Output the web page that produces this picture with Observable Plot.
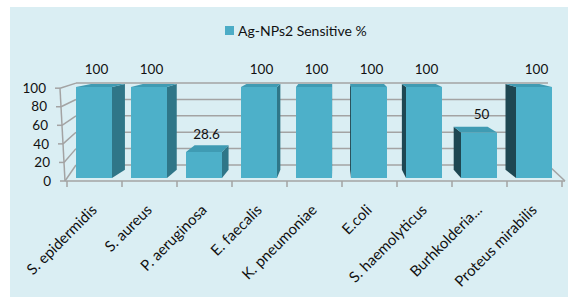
<!DOCTYPE html>
<html>
<head>
<meta charset="utf-8">
<script src="https://cdn.jsdelivr.net/npm/d3@7"></script>
<script src="https://cdn.jsdelivr.net/npm/@observablehq/plot@0.6"></script>
<style>
  html, body { margin: 0; padding: 0; background: #ffffff; }
  body { font-family: Lato, "Open Sans", sans-serif; }
  #panel { position: absolute; left: 10px; top: 7px; width: 558px; height: 290px; background: #DAEEF3; overflow: hidden; }
  #legend { position: absolute; left: 215px; top: 16px; height: 14px; display: flex; align-items: center; font-size: 14px; color: #111; white-space: nowrap; }
  #legend .sw { width: 9px; height: 9px; background: #4BACC6; margin-right: 4px; }
  #chart { position: absolute; left: 0; top: 38px; }
</style>
</head>
<body>
<div id="panel">
  <div id="legend"><div class="sw"></div><span id="legendText"></span></div>
  <div id="chart"></div>
</div>
<script>
// ---- data ----
const seriesName = "Ag-NPs2 Sensitive %";
const categories = ["S. epidermidis", "S. aureus", "P. aeruginosa", "E. faecalis", "K. pneumoniae", "E.coli", "S. haemolyticus", "Burhkolderia...", "Proteus mirabilis"];
const values = [100, 100, 28.6, 100, 100, 100, 100, 50, 100];
const yTicks = [0, 20, 40, 60, 80, 100];

const data = categories.map((c, i) => ({category: c, value: values[i]}));
document.getElementById("legendText").textContent = seriesName;

// ---- styling / 3D projection settings ----
const W = 558, H = 252;
const FRONT = "#4db0c9", TOP = "#3f9bb3", RSIDE = "#2f7688", LSIDE = "#1e4752";
const GRID = "#a3a3a3";
const VPX = 325, VPY = -11, K = 0.058;

const back = (x, y) => [x + K * (VPX - x), y + K * (VPY - y)];

function wallGeometry(scales) {
  const y0 = scales.y(0);
  const [xa, xb] = scales.x.range();
  return {
    yBack: v => y0 - 13 + (scales.y(v) - y0) * 0.9,
    yFront: v => y0 + 3 + (scales.y(v) - y0) * 1.02,
    xFront: v => xa - 2 - 5 * (v / 100),
    xBackL: xa + 9,
    xBackR: xb - 17,
    xa, xb
  };
}

const walls = Plot.ruleY(yTicks, {
  y: d => d,
  render(index, scales) {
    const G = wallGeometry(scales);
    const g = d3.create("svg:g").attr("fill", "none").attr("stroke", GRID).attr("stroke-width", 1.5);
    const line = (x1, y1, x2, y2) => g.append("line").attr("x1", x1).attr("y1", y1).attr("x2", x2).attr("y2", y2);
    for (const v of yTicks) {
      line(G.xBackL, G.yBack(v), G.xBackR, G.yBack(v));               // back wall gridline
      line(G.xFront(v), G.yFront(v), G.xBackL, G.yBack(v));            // side wall line
      line(G.xFront(v) - 5, G.yFront(v), G.xFront(v), G.yFront(v));    // tick
    }
    const vMax = yTicks[yTicks.length - 1];
    line(G.xFront(vMax), G.yFront(vMax), G.xFront(0), G.yFront(0));    // y axis edge
    line(G.xFront(0), G.yFront(0), G.xb, G.yFront(0));                 // floor front
    line(G.xBackR, G.yBack(0), G.xb, G.yFront(0));                     // floor right
    const step = scales.x.step();
    for (let i = 0; i <= categories.length; i++) {
      const x = G.xa + i * step;
      line(x, G.yFront(0), x, G.yFront(0) + 6);
    }
    return g.node();
  }
});

const yLabels = Plot.text(yTicks, {
  y: d => d,
  text: d => String(d),
  render(index, scales) {
    const G = wallGeometry(scales);
    const g = d3.create("svg:g").attr("font-size", 13.5).attr("fill", "#111").attr("text-anchor", "end").attr("font-family", "Lato, sans-serif");
    for (const v of yTicks) {
      g.append("text").attr("x", G.xFront(v) - 14).attr("y", G.yFront(v)).attr("dy", "0.35em").text(String(v));
    }
    return g.node();
  }
});

const bars = Plot.barY(data, {
  x: "category",
  y: "value",
  render(index, scales) {
    const g = d3.create("svg:g");
    const bw = scales.x.bandwidth();
    const yb = scales.y(0);
    const poly = (pts, fill) => g.append("polygon").attr("points", pts.map(p => p.join(",")).join(" ")).attr("fill", fill);
    for (const i of index) {
      const d = data[i];
      const x0 = scales.x(d.category) - 2, x1 = x0 + bw;
      const yt = scales.y(d.value);
      const xc = (x0 + x1) / 2;
      if (xc < VPX) {
        poly([[x1, yt], back(x1, yt), back(x1, yb), [x1, yb]], RSIDE);
      } else {
        poly([[x0, yt], back(x0, yt), back(x0, yb), [x0, yb]], LSIDE);
      }
      poly([[x0, yt], [x1, yt], back(x1, yt), back(x0, yt)], TOP);
      poly([[x0, yt], [x1, yt], [x1, yb], [x0, yb]], FRONT);
    }
    return g.node();
  }
});

const plot = Plot.plot({
  width: W,
  height: H,
  marginLeft: 57,
  marginRight: 3,
  marginTop: 42,
  marginBottom: H - 133,
  x: {type: "band", domain: categories, paddingInner: 0.34, paddingOuter: 0.17, axis: null},
  y: {domain: [0, 100], axis: null},
  style: {background: "transparent", fontFamily: "Lato, sans-serif", overflow: "visible"},
  marks: [
    walls,
    bars,
    Plot.text(data, {x: "category", y: "value", text: d => String(d.value), dy: -18, fontSize: 13.5, fill: "#111"}),
    Plot.text(data, {x: "category", y: 0, text: "category", rotate: -45, textAnchor: "end", dx: -2, dy: 29, fontSize: 15, fill: "#111"}),
    yLabels
  ]
});
document.getElementById("chart").appendChild(plot);
</script>
</body>
</html>
